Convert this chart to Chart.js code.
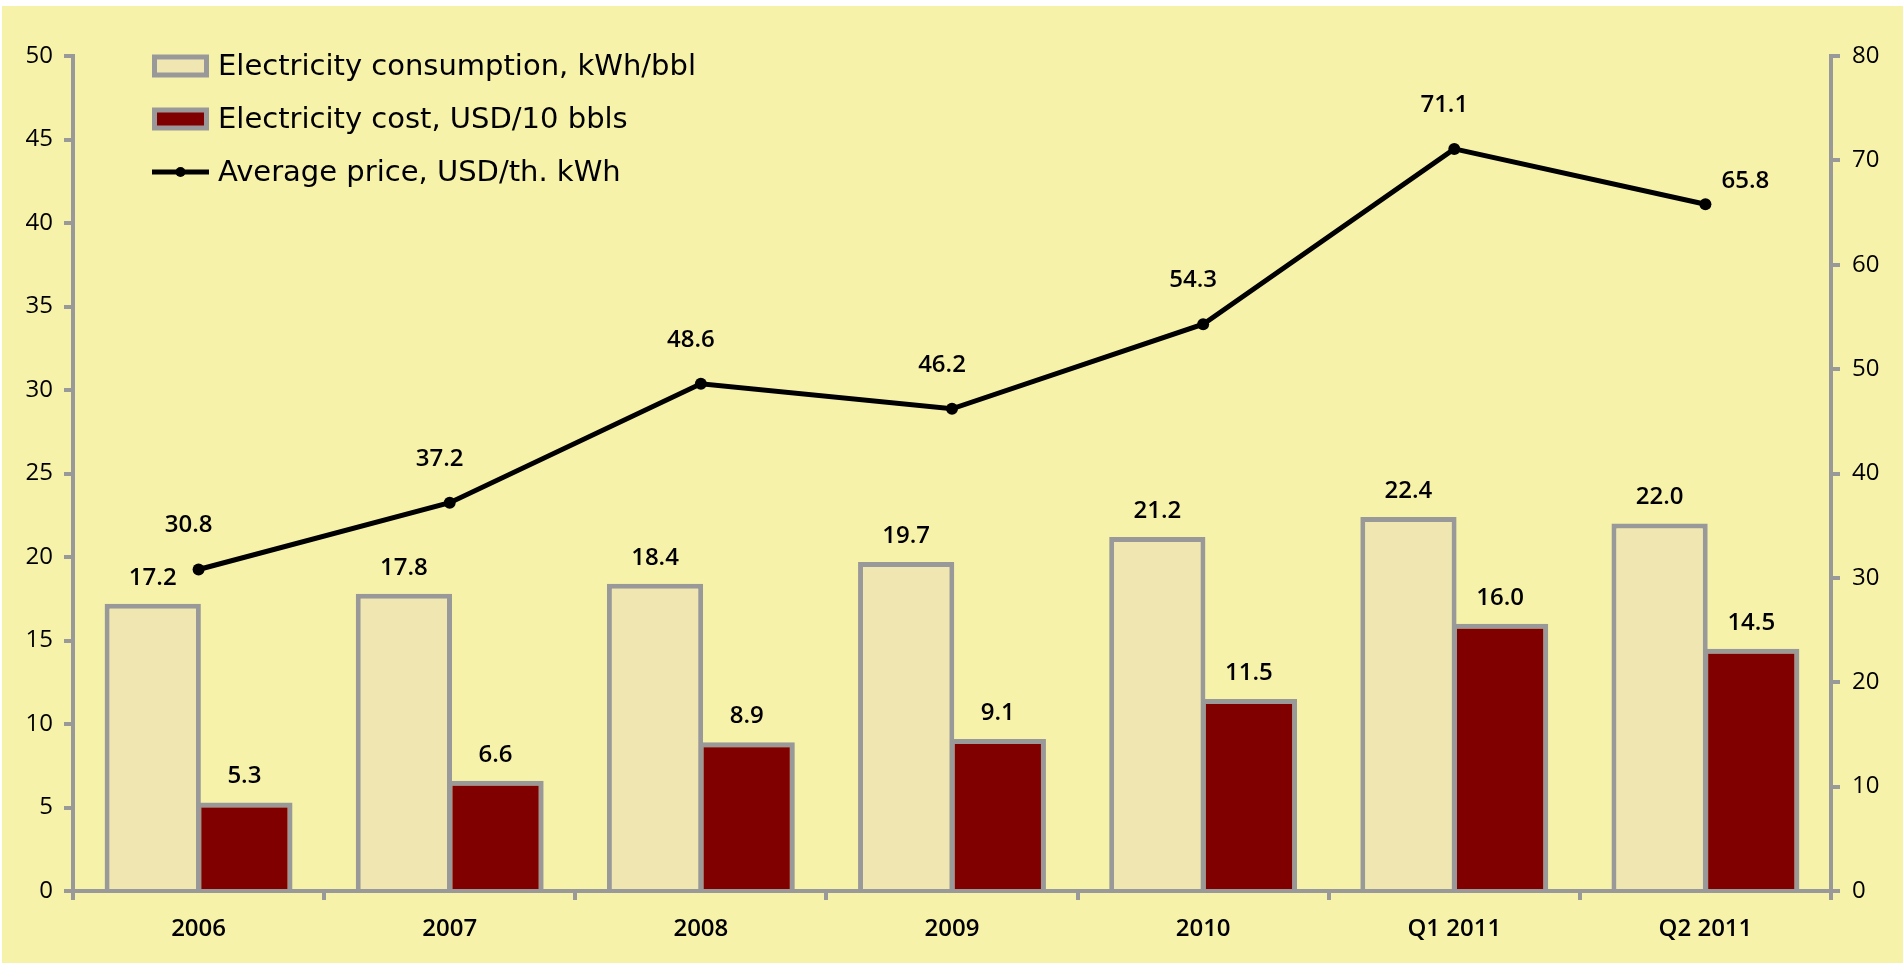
<!DOCTYPE html>
<html lang="en">
<head>
    <meta charset="UTF-8">
    <title>Electricity consumption and cost</title>
    <script src="https://cdn.jsdelivr.net/npm/chart.js@4.4.1/dist/chart.umd.min.js"></script>
    <style>
        html, body { margin: 0; padding: 0; background: #ffffff; }
        .chart_box {
            position: absolute;
            left: 2px;
            top: 6px;
            width: 1901px;
            height: 957px;
            background: #f7f2aa;
        }
    </style>
</head>
<body>
    <div class="chart_box">
        <canvas id="myChart" width="1901" height="957"></canvas>
    </div>
    <script>
        // chart data
        var periods = ['2006', '2007', '2008', '2009', '2010', 'Q1 2011', 'Q2 2011'];
        var consumption = [17.2, 17.8, 18.4, 19.7, 21.2, 22.4, 22.0];
        var cost = [5.3, 6.6, 8.9, 9.1, 11.5, 16.0, 14.5];
        var avgPrice = [30.8, 37.2, 48.6, 46.2, 54.3, 71.1, 65.8];

        var grey = '#999999';
        var tickFont = { family: 'Open Sans', size: 24 };
        var boldFont = { family: 'Open Sans', size: 24, weight: '600' };

        // value labels above bars and points
        var valueLabels = {
            id: 'valueLabels',
            afterDatasetsDraw: function (chart) {
                var ctx = chart.ctx;
                ctx.save();
                ctx.fillStyle = '#000';
                ctx.font = '600 24px "Open Sans"';
                ctx.textAlign = 'center';
                ctx.textBaseline = 'middle';
                chart.data.datasets.forEach(function (ds, i) {
                    var meta = chart.getDatasetMeta(i);
                    meta.data.forEach(function (el, j) {
                        var txt = ds.data[j].toFixed(1);
                        if (ds.type === 'line') {
                            var last = j === ds.data.length - 1;
                            ctx.fillText(txt, el.x + (last ? 40 : -10), el.y + (last ? -23 : -44));
                        } else {
                            ctx.fillText(txt, el.x, el.y - 26);
                        }
                    });
                });
                ctx.restore();
            }
        };

        // legend drawn inside the plot, top left
        var innerLegend = {
            id: 'innerLegend',
            afterDraw: function (chart) {
                var ctx = chart.ctx;
                var x0 = 150, y0 = 60, step = 53;
                ctx.save();
                ctx.font = '29px "DejaVu Sans"';
                ctx.textBaseline = 'middle';
                ctx.textAlign = 'left';
                chart.data.datasets.forEach(function (ds, i) {
                    var y = y0 + i * step;
                    if (ds.type === 'line') {
                        ctx.strokeStyle = '#000';
                        ctx.lineWidth = 5;
                        ctx.beginPath();
                        ctx.moveTo(x0, y);
                        ctx.lineTo(x0 + 57, y);
                        ctx.stroke();
                        ctx.fillStyle = '#000';
                        ctx.beginPath();
                        ctx.arc(x0 + 28.5, y, 5, 0, Math.PI * 2);
                        ctx.fill();
                    } else {
                        ctx.fillStyle = ds.backgroundColor;
                        ctx.strokeStyle = grey;
                        ctx.lineWidth = 5;
                        ctx.fillRect(x0 + 2.5, y - 9, 52, 18);
                        ctx.strokeRect(x0 + 2.5, y - 9, 52, 18);
                    }
                    ctx.fillStyle = '#000';
                    ctx.fillText(ds.label, x0 + 66, y + 1);
                });
                ctx.restore();
            }
        };

        var ctx = document.getElementById('myChart').getContext('2d');
        var myChart = new Chart(ctx, {
            data: {
                labels: periods,
                datasets: [
                    {
                        type: 'bar',
                        label: 'Electricity consumption, kWh/bbl',
                        data: consumption,
                        yAxisID: 'y',
                        backgroundColor: '#f0e6b2',
                        borderColor: grey,
                        borderWidth: 5,
                        categoryPercentage: 0.73,
                        barPercentage: 1.05,
                        order: 1
                    },
                    {
                        type: 'bar',
                        label: 'Electricity cost, USD/10 bbls',
                        data: cost,
                        yAxisID: 'y',
                        backgroundColor: '#800000',
                        borderColor: grey,
                        borderWidth: 5,
                        categoryPercentage: 0.73,
                        barPercentage: 1.05,
                        order: 1
                    },
                    {
                        type: 'line',
                        label: 'Average price, USD/th. kWh',
                        data: avgPrice,
                        yAxisID: 'y1',
                        borderColor: '#000',
                        borderWidth: 5,
                        pointRadius: 6,
                        pointBackgroundColor: '#000',
                        pointBorderWidth: 0,
                        tension: 0,
                        order: 0
                    }
                ]
            },
            options: {
                responsive: false,
                animation: false,
                layout: { padding: { top: 50, left: 0, right: 0, bottom: 0 } },
                plugins: {
                    legend: { display: false },
                    tooltip: { enabled: false }
                },
                scales: {
                    x: {
                        offset: true,
                        grid: { offset: true, drawOnChartArea: false, tickLength: 9, color: grey, lineWidth: 4 },
                        border: { color: grey, width: 4 },
                        ticks: { color: '#000', font: boldFont, padding: 15, maxRotation: 0 },
                        afterFit: function (scale) { scale.height = 72; }
                    },
                    y: {
                        position: 'left',
                        min: 0,
                        max: 50,
                        ticks: { stepSize: 5, color: '#000', font: tickFont, padding: 11 },
                        grid: { drawOnChartArea: false, tickLength: 9, color: grey, lineWidth: 4 },
                        border: { color: grey, width: 4 },
                        afterFit: function (scale) { scale.width = 71; }
                    },
                    y1: {
                        position: 'right',
                        min: 0,
                        max: 80,
                        ticks: { stepSize: 10, color: '#000', font: tickFont, padding: 12 },
                        grid: { drawOnChartArea: false, tickLength: 9, color: grey, lineWidth: 4 },
                        border: { color: grey, width: 4 },
                        afterFit: function (scale) { scale.width = 72; }
                    }
                }
            },
            plugins: [valueLabels, innerLegend]
        });
    </script>
</body>
</html>
